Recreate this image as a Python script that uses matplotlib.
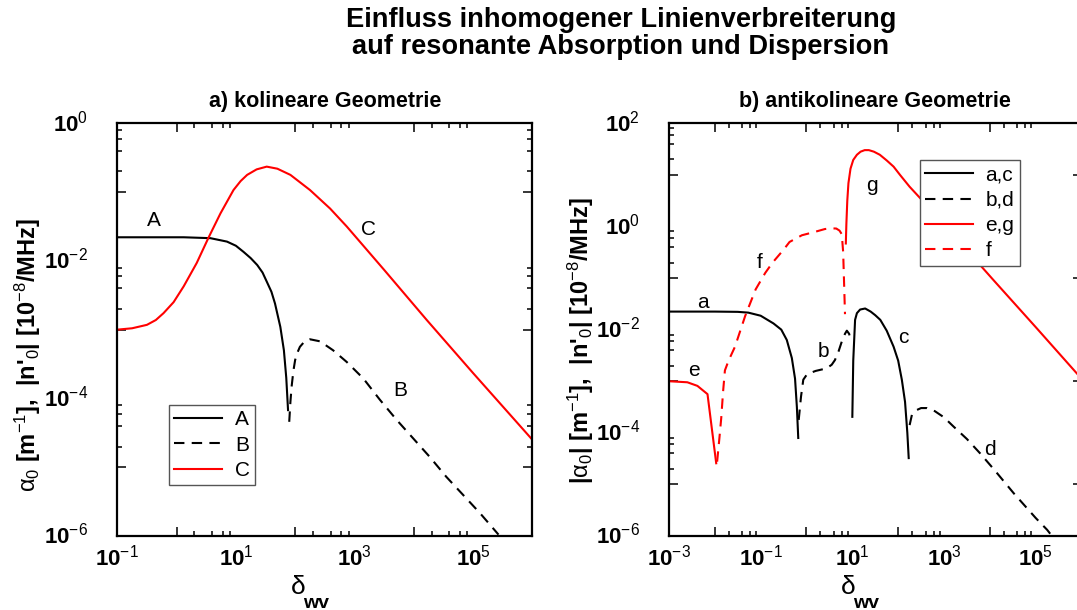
import numpy as np
import matplotlib
matplotlib.use("Agg")
import matplotlib.pyplot as plt
from matplotlib.ticker import FixedLocator, NullFormatter

plt.rcParams['font.family'] = ['Liberation Sans', 'DejaVu Sans']
plt.rcParams['mathtext.fontset'] = 'custom'
plt.rcParams['mathtext.rm'] = 'Liberation Sans'
plt.rcParams['mathtext.it'] = 'Liberation Sans'
plt.rcParams['mathtext.bf'] = 'Liberation Sans:bold'

# Kurven als Dekaden-Exponenten: x = log10(delta_wv), y = log10(Wert)
# a) kolineare Geometrie
A_x = [-1, 0.12, 0.57, 0.85, 1.0, 1.13, 1.25, 1.36, 1.45, 1.52, 1.6, 1.66, 1.75, 1.81, 1.85, 1.88]
A_y = [-1.657, -1.657, -1.67, -1.72, -1.78, -1.87, -1.96, -2.06, -2.17, -2.3, -2.45, -2.62, -2.96, -3.3, -3.7, -4.17]
B_x = [1.9, 1.92, 1.94, 1.97, 2.0, 2.04, 2.08, 2.15, 2.25, 2.42, 2.64, 2.87, 3.15, 3.43, 3.71,
       3.99, 4.27, 4.55, 4.83, 5.12, 5.43]
B_y = [-4.34, -4.05, -3.83, -3.6, -3.44, -3.33, -3.25, -3.18, -3.14, -3.17, -3.3, -3.47, -3.71, -4.02, -4.31,
       -4.58, -4.85, -5.14, -5.4, -5.67, -5.98]
C_x = [-1, -0.75, -0.5, -0.35, -0.22, -0.05, 0.12, 0.34, 0.54, 0.74, 0.96, 1.08, 1.19, 1.35, 1.52,
       1.7, 1.92, 2.25, 2.59, 2.87, 3.5, 4.22, 5.0, 6.0]
C_y = [-3.0, -2.98, -2.93, -2.86, -2.76, -2.6, -2.37, -2.03, -1.66, -1.31, -0.97, -0.84, -0.75, -0.67, -0.63,
       -0.66, -0.75, -0.97, -1.24, -1.5, -2.13, -2.86, -3.63, -4.6]

# b) antikolineare Geometrie
a_x = [-3, -2, -1.5, -1.27, -1.0, -0.72, -0.55, -0.43, -0.32, -0.25, -0.21, -0.18]
a_y = [-1.65, -1.65, -1.655, -1.67, -1.73, -1.88, -2.0, -2.2, -2.55, -2.95, -3.5, -4.1]
b_x = [-0.17, -0.12, -0.07, 0.0, 0.08, 0.2, 0.44, 0.55, 0.62, 0.7, 0.77, 0.84, 0.88, 0.93, 0.97]
b_y = [-3.75, -3.3, -2.97, -2.88, -2.84, -2.8, -2.75, -2.68, -2.59, -2.42, -2.23, -2.08, -2.02, -2.08, -2.23]
c_x = [1.0, 1.02, 1.06, 1.1, 1.17, 1.28, 1.4, 1.5, 1.61, 1.75, 1.9, 2.0, 2.08, 2.15, 2.2, 2.23]
c_y = [-3.69, -2.6, -1.81, -1.68, -1.61, -1.59, -1.65, -1.72, -1.81, -2.02, -2.33, -2.6, -2.97, -3.4, -4.0, -4.49]
d_x = [2.25, 2.3, 2.4, 2.5, 2.63, 2.8, 3.0, 3.21, 3.5, 3.79, 4.1, 4.52, 5.0, 5.25, 5.4]
d_y = [-3.85, -3.65, -3.56, -3.52, -3.52, -3.58, -3.7, -3.88, -4.12, -4.4, -4.72, -5.17, -5.65, -5.88, -6.05]
e_x = [-3, -2.6, -2.38, -2.16, -1.97]
e_y = [-3.0, -3.02, -3.09, -3.25, -4.59]
f_x = [-1.95, -1.9, -1.86, -1.82, -1.78, -1.7, -1.56, -1.34, -1.11, -0.9, -0.74, -0.5, -0.37,
       -0.1, 0.16, 0.4, 0.53, 0.65, 0.72, 0.77, 0.8, 0.84]
f_y = [-4.56, -4.1, -3.71, -3.2, -2.79, -2.6, -2.33, -1.74, -1.22, -0.9, -0.7, -0.45, -0.3,
       -0.17, -0.11, -0.05, -0.035, -0.04, -0.08, -0.15, -0.5, -1.7]
g_x = [0.858, 0.87, 0.89, 0.915, 0.96, 1.02, 1.1, 1.18, 1.27, 1.36, 1.47, 1.6, 1.75, 1.9,
       2.04, 2.25, 2.5, 3.0, 3.5, 4.08, 5.0, 6.0]
g_y = [-0.33, 0.05, 0.5, 0.84, 1.12, 1.29, 1.39, 1.45, 1.48, 1.48, 1.45, 1.39, 1.28, 1.16,
       1.0, 0.77, 0.53, 0.04, -0.46, -1.04, -1.95, -2.95]

W, H = 1077, 610
fig = plt.figure(figsize=(W / 100, H / 100), dpi=100)


def px_axes(x0, y0, x1, y1):
    return fig.add_axes([x0 / W, 1 - y1 / H, (x1 - x0) / W, (y1 - y0) / H])


def p(xs, ys):
    return 10.0 ** np.array(xs), 10.0 ** np.array(ys)


def lab(k):
    return '10$^{%d}$' % k


def setup(ax, xlo, xhi, ylo, yhi):
    ax.set_xscale('log')
    ax.set_yscale('log')
    ax.set_xlim(10.0 ** xlo, 10.0 ** xhi)
    ax.set_ylim(10.0 ** ylo, 10.0 ** yhi)
    # lange Striche nur jede zweite Dekade, kurze bei 2,4,6,8
    xmaj = [10.0 ** k for k in range(xlo + 1, xhi + 1, 2)]
    ymaj = [10.0 ** k for k in range(ylo + 1, yhi + 1, 2)]
    ax.xaxis.set_major_locator(FixedLocator(xmaj))
    ax.yaxis.set_major_locator(FixedLocator(ymaj))
    ax.xaxis.set_minor_locator(FixedLocator([m * t for t in xmaj for m in (2, 4, 6, 8)]))
    ax.yaxis.set_minor_locator(FixedLocator([m * t for t in ymaj for m in (2, 4, 6, 8)]))
    for axis in (ax.xaxis, ax.yaxis):
        axis.set_major_formatter(NullFormatter())
        axis.set_minor_formatter(NullFormatter())
    ax.tick_params(which='both', direction='in', top=True, right=True, width=1.1)
    ax.tick_params(which='major', length=6.5)
    ax.tick_params(which='minor', length=3.6)
    for s in ax.spines.values():
        s.set_linewidth(1.6)
    # Zahlen an den ungeraden bzw. geraden Dekaden
    for k in range(xlo, xhi, 2):
        ax.text(10.0 ** k, -0.02, lab(k), transform=ax.get_xaxis_transform(),
                ha='center', va='top', fontsize=16, fontweight='bold', clip_on=False)
    for k in range(ylo, yhi + 1, 2):
        ax.text(-0.07, 10.0 ** k, lab(k), transform=ax.get_yaxis_transform(),
                ha='right', va='center', fontsize=16, fontweight='bold', clip_on=False)


lw = 1.5
dash = (0, (5, 3.5))
leg_kw = dict(loc='upper left', fontsize=15, handlelength=2.3, handletextpad=0.6,
              labelspacing=0.3, borderpad=0.25, borderaxespad=0, fancybox=False,
              framealpha=1, edgecolor='#555555')

# a) kolineare Geometrie
ax1 = px_axes(117.3, 123.3, 532.3, 536)
setup(ax1, -1, 6, -6, 0)
ax1.plot(*p(A_x, A_y), color='black', lw=lw, label='A')
ax1.plot(*p(B_x, B_y), color='black', lw=lw, ls=dash, label='B')
ax1.plot(*p(C_x, C_y), color='red', lw=lw, label='C')
leg1 = ax1.legend(bbox_to_anchor=(0.125, 0.317), **leg_kw)
leg1.get_frame().set_linewidth(1.0)
for s, xe, ye in [('A', -0.39, -1.41), ('C', 3.23, -1.55), ('B', 3.77, -3.88)]:
    ax1.text(10.0 ** xe, 10.0 ** ye, s, fontsize=15, ha='center', va='center')
ax1.set_title('a) kolineare Geometrie', fontsize=15.5, fontweight='bold', pad=12)

# b) antikolineare Geometrie
ax2 = px_axes(669, 123.3, 1081.5, 536)
setup(ax2, -3, 6, -6, 2)
ax2.plot(*p(a_x, a_y), color='black', lw=lw, label='a,c')
ax2.plot(*p(b_x, b_y), color='black', lw=lw, ls=dash, label='b,d')
ax2.plot(*p(e_x, e_y), color='red', lw=lw, label='e,g')
ax2.plot(*p(f_x, f_y), color='red', lw=lw, ls=dash, label='f')
ax2.plot(*p(c_x, c_y), color='black', lw=lw)
ax2.plot(*p(d_x, d_y), color='black', lw=lw, ls=dash)
ax2.plot(*p(g_x, g_y), color='red', lw=lw)
leg2 = ax2.legend(bbox_to_anchor=(0.608, 0.91), **leg_kw)
leg2.get_frame().set_linewidth(1.0)
for s, xe, ye in [('a', -2.26, -1.48), ('e', -2.45, -2.8), ('f', -1.03, -0.69), ('g', 1.43, 0.8),
                  ('b', 0.38, -2.43), ('c', 2.11, -2.16), ('d', 4.0, -4.33)]:
    ax2.text(10.0 ** xe, 10.0 ** ye, s, fontsize=15, ha='center', va='center')
ax2.set_title('b) antikolineare Geometrie', fontsize=15.5, fontweight='bold', pad=12)

# Achsenbeschriftungen
fig.text(28 / W, 1 - 355 / H, r"$\alpha_0$ [m$^{-1}$],  |n'$_0$| [10$^{-8}$/MHz]",
         rotation=90, ha='center', va='center', fontsize=17, fontweight='bold')
fig.text(581 / W, 1 - 341 / H, r"|$\alpha_0$| [m$^{-1}$],  |n'$_0$| [10$^{-8}$/MHz]",
         rotation=90, ha='center', va='center', fontsize=17, fontweight='bold')
for xd in (290, 840):
    fig.text(xd / W, 1 - 587 / H, r'$\delta$', fontsize=19, ha='left', va='center')
    fig.text((xd + 13) / W, 1 - 603 / H, 'wv', fontsize=14, fontweight='bold', ha='left', va='center')

fig.text(621 / W, 1 - 20 / H, 'Einfluss inhomogener Linienverbreiterung',
         ha='center', va='center', fontsize=19.6, fontweight='bold')
fig.text(621 / W, 1 - 47 / H, 'auf resonante Absorption und Dispersion',
         ha='center', va='center', fontsize=19.6, fontweight='bold')

fig.savefig('out.png', dpi=100)
